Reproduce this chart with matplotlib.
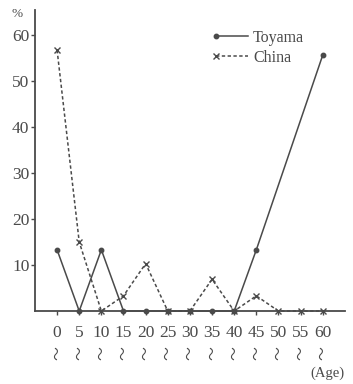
import matplotlib
matplotlib.use("Agg")
import matplotlib.pyplot as plt
from matplotlib.legend_handler import HandlerLine2D

# age groups (lower bound of each 5-year band)
ages = [0, 5, 10, 15, 20, 25, 30, 35, 40, 45, 50, 55, 60]
# Toyama: no points plotted at 50 and 55
toyama_ages = [0, 5, 10, 15, 20, 25, 30, 35, 40, 45, 60]
toyama_pct = [13.3, 0, 13.3, 0, 0, 0, 0, 0, 0, 13.3, 55.6]
china_pct = [56.7, 15.0, 0, 3.3, 10.3, 0, 0, 6.9, 0, 3.3, 0, 0, 0]

INK = "#4a4a4a"
plt.rcParams["font.family"] = ["Liberation Serif", "DejaVu Serif"]


class MarkerLeft(HandlerLine2D):
    # put the legend marker at the left end of the sample line
    def create_artists(self, *args, **kwargs):
        arts = super().create_artists(*args, **kwargs)
        for a in arts:
            a.set_markevery([0])
        return arts


fig = plt.figure(figsize=(3.53, 3.84), dpi=100)
ax = fig.add_axes([0.099, 0.19, 0.878, 0.784])

ax.plot(toyama_ages, toyama_pct, color=INK, lw=1.1, marker="o", ms=3.2,
        label="Toyama", clip_on=False, zorder=3)
ax.plot(ages, china_pct, color=INK, lw=1.1, ls=(0, (2.2, 1.6)), marker="x",
        ms=4.5, mew=1.0, label="China", clip_on=False, zorder=3)

ax.set_xlim(-5, 65)
ax.set_ylim(0, 65.4)
for s in ("top", "right"):
    ax.spines[s].set_visible(False)
for s in ("left", "bottom"):
    ax.spines[s].set_color(INK)
    ax.spines[s].set_linewidth(1.3)

ax.set_yticks([10, 20, 30, 40, 50, 60])
ax.set_xticks(ages)
ax.tick_params(axis="both", colors=INK, labelsize=12.5, length=3, width=1.0)
ax.tick_params(axis="x", pad=7)
ax.tick_params(axis="y", pad=1)

for a in ages:
    ax.annotate("〜", xy=(a, 0), xycoords=("data", "axes fraction"),
                xytext=(0, -30), textcoords="offset points", rotation=90,
                ha="center", va="center", fontsize=10, color=INK,
                family=["Noto Sans CJK JP", "DejaVu Sans"])

ax.text(-0.04, 0.985, "%", transform=ax.transAxes, ha="right", va="center",
        fontsize=9.5, color=INK)
ax.annotate("(Age)", xy=(1.0, 0), xycoords="axes fraction",
            xytext=(0, -45), textcoords="offset points",
            ha="right", va="center", fontsize=10.5, color=INK)

leg = ax.legend(loc="upper left", bbox_to_anchor=(0.565, 0.955), frameon=False,
                fontsize=11.5, handlelength=2.0, handletextpad=0.3,
                labelspacing=0.25, borderaxespad=0,
                handler_map={plt.Line2D: MarkerLeft(numpoints=1)})
for t in leg.get_texts():
    t.set_color(INK)

fig.savefig("out.png", dpi=100)
